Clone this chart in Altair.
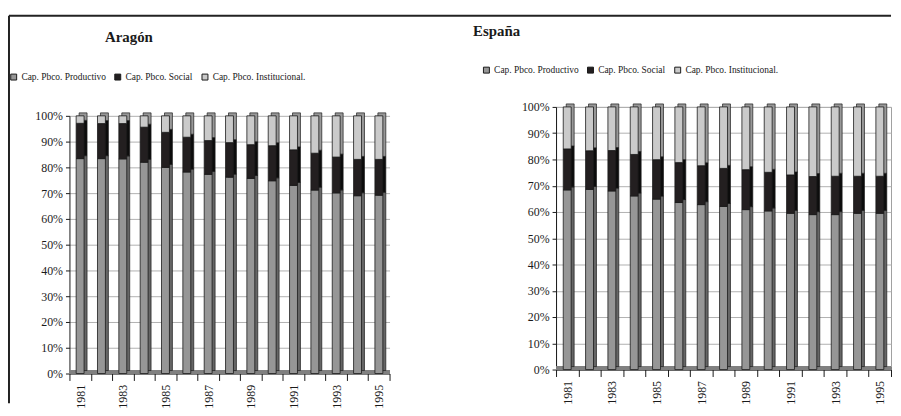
import altair as alt
import pandas as pd

years = list(range(1981, 1996))
series = ["Cap. Pbco. Productivo", "Cap. Pbco. Social", "Cap. Pbco. Institucional."]
colors = ["#969696", "#231f20", "#cacaca"]
side_colors = ["#666666", "#0c0c0c", "#989898"]

aragon_prod = [83.4, 83.4, 83.3, 82.0, 80.0, 78.2, 77.3, 76.2, 75.7, 74.8, 73.0, 71.2, 70.1, 69.0, 69.2]
aragon_soc = [13.7, 13.6, 13.7, 13.6, 13.6, 13.5, 13.1, 13.4, 13.1, 13.6, 13.8, 14.3, 13.9, 14.1, 13.9]
aragon_inst = [2.9, 3.0, 3.0, 4.4, 6.4, 8.3, 9.6, 10.4, 11.2, 11.6, 13.2, 14.5, 16.0, 16.9, 16.9]

espana_prod = [68.4, 68.6, 68.0, 66.1, 64.9, 63.6, 62.8, 62.1, 60.9, 60.4, 59.5, 59.0, 59.0, 59.5, 59.5]
espana_soc = [15.6, 14.7, 15.4, 15.8, 15.0, 15.2, 14.8, 14.5, 15.2, 14.7, 14.6, 14.5, 14.6, 14.1, 14.1]
espana_inst = [16.0, 16.7, 16.6, 18.1, 20.1, 21.2, 22.4, 23.4, 23.9, 24.9, 25.9, 26.5, 26.4, 26.4, 26.4]

FONT = "Liberation Serif, Times New Roman, serif"
INK = "#1a1a1a"
TICKS = [i / 10 for i in range(11)]


def long_frame(prod, soc, inst):
    rows = []
    for vals, k in ((prod, 0), (soc, 1), (inst, 2)):
        for y, v in zip(years, vals):
            rows.append({"year": y, "series": series[k], "ord": k,
                         "side": side_colors[k], "value": v})
    return pd.DataFrame(rows)


def panel(df, title, w, h, top, lx, ly, tx, ty, view_stroke=None, border=None):
    yscale = alt.Scale(domain=[0, 1], range=[h, top])
    yaxis = alt.Axis(values=TICKS, format=".0%", grid=True, gridColor="#b0b0b0",
                     tickSize=4, labelPadding=3, labelOverlap=False,
                     labelFont=FONT, labelFontSize=12, labelColor=INK,
                     domainColor=INK, tickColor=INK)
    x = alt.X("year:O", title=None,
              scale=alt.Scale(paddingInner=0, paddingOuter=0),
              axis=alt.Axis(labelAngle=-90, tickBand="extent", tickSize=7,
                            labelPadding=4, labelOverlap=False,
                            labelFont=FONT, labelFontSize=12, labelColor=INK,
                            domainColor=INK, tickColor=INK,
                            labelExpr="datum.value % 2 == 1 ? datum.label : ''"))
    y = alt.Y("value:Q", stack="normalize", title=None, scale=yscale, axis=yaxis)
    order = alt.Order("ord:Q", sort="ascending")

    floor = alt.Chart(df).mark_rule(color="#808080", strokeWidth=3, yOffset=-1.5).encode(
        y=alt.Y(datum=0, scale=yscale, axis=yaxis, title=None))
    back = alt.Chart(df).mark_bar(size=8, xOffset=3, yOffset=-3, stroke=INK,
                                  strokeWidth=0.7).encode(
        x=x, y=y, order=order, fill=alt.Fill("side:N", scale=None))
    front = alt.Chart(df).mark_bar(size=8, stroke=INK, strokeWidth=0.8).encode(
        x=x, y=y, order=order,
        color=alt.Color("series:N",
                        scale=alt.Scale(domain=series, range=colors),
                        legend=alt.Legend(orient="none", legendX=lx, legendY=ly,
                                          direction="horizontal", title=None,
                                          symbolType="square", symbolSize=36,
                                          symbolStrokeColor=INK, symbolStrokeWidth=1,
                                          labelFont=FONT, labelFontSize=9.5,
                                          labelColor=INK, labelOffset=3,
                                          columnPadding=6, padding=0)))
    ttl = alt.Chart(pd.DataFrame({"t": [title]})).mark_text(
        font=FONT, fontSize=15, fontWeight="bold", color=INK,
        align="center", baseline="alphabetic").encode(
        x=alt.value(tx), y=alt.value(ty), text="t:N")
    layers = [floor, back, front, ttl]
    if border is not None:
        layers += border
    ch = alt.layer(*layers).properties(width=w, height=h)
    if view_stroke:
        ch = ch.properties(view=alt.ViewBackground(stroke=view_stroke))
    return ch


df_a = long_frame(aragon_prod, aragon_soc, aragon_inst)
df_e = long_frame(espana_prod, espana_soc, espana_inst)

# left panel: group top is 9px above its plot top (page y 106), plot spans 115..375
border_df = pd.DataFrame({"b": [0]})
border = [
    alt.Chart(border_df).mark_rule(color="#222222", strokeWidth=2).encode(
        x=alt.value(-61), x2=alt.value(829), y=alt.value(-92)),
    alt.Chart(border_df).mark_rule(color="#222222", strokeWidth=2).encode(
        x=alt.value(-61), y=alt.value(-92), y2=alt.value(299)),
]

left = panel(df_a, "Aragón", 323, 269, 9, -61, -35, 60, -66, border=border)
right = panel(df_e, "España", 338, 265, 0, -75, -42, -60, -72, view_stroke="#a0a0a0")

chart = alt.hconcat(left, right, spacing=168, bounds="flush").resolve_scale(
    color="independent", x="independent", y="independent"
).properties(
    padding={"left": 0, "top": 5, "right": 0, "bottom": 0}
).configure_view(stroke=None)

chart.save("out.html", embed_options={"renderer": "svg", "actions": False})
